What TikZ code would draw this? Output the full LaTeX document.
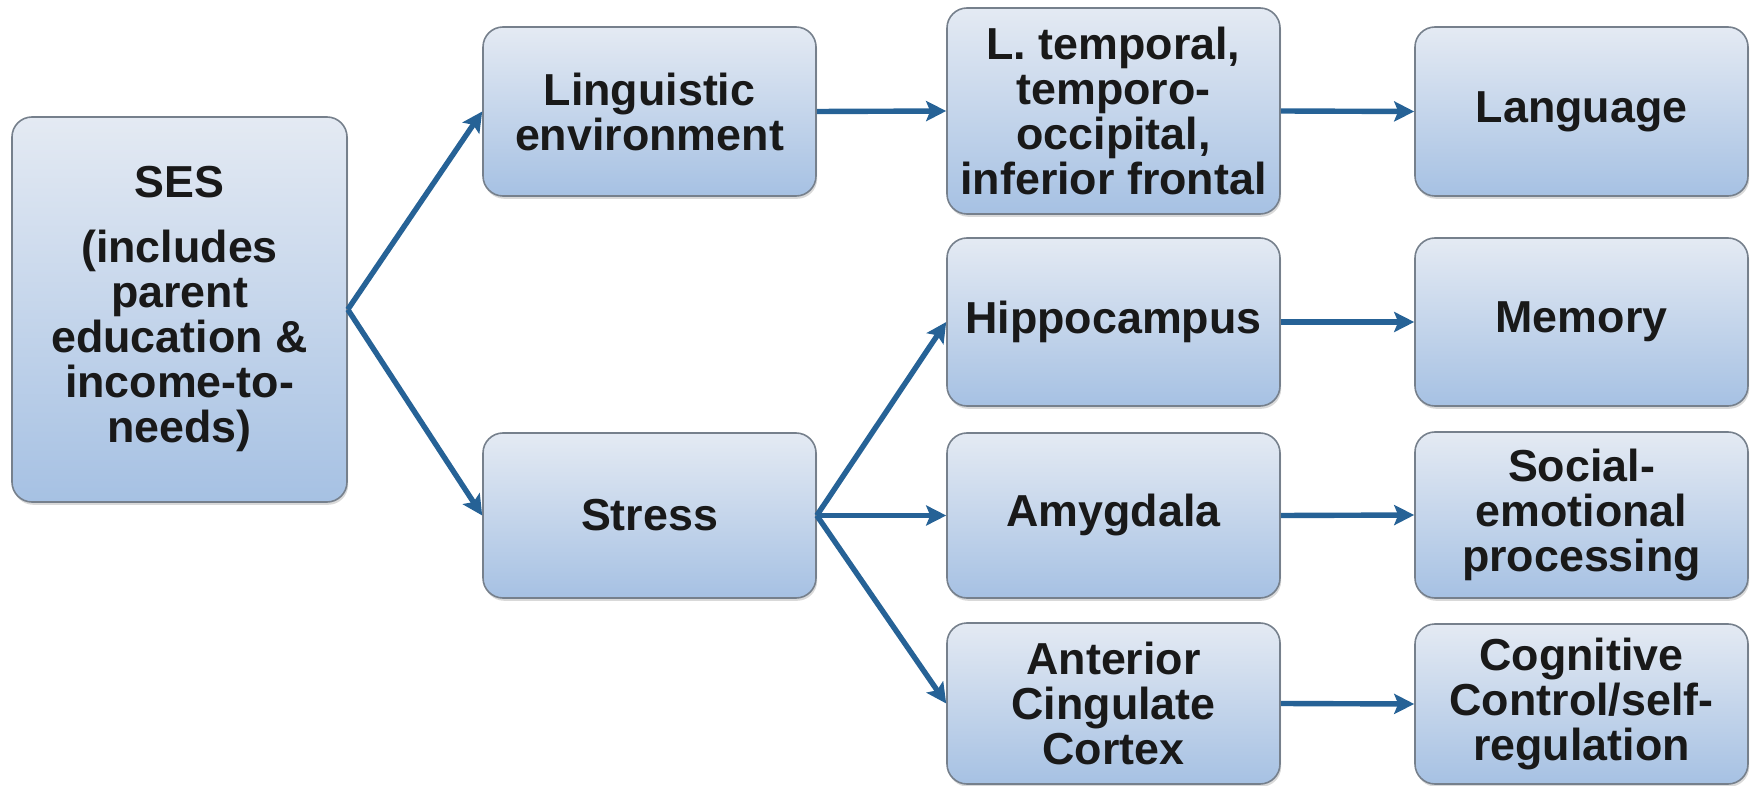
\documentclass[tikz,border=0pt]{standalone}
\usepackage{fontspec}
\setmainfont{Liberation Sans}
\usetikzlibrary{arrows.meta,shadows}
\definecolor{boxtop}{RGB}{228,234,243}
\definecolor{boxbot}{RGB}{166,193,227}
\definecolor{boxline}{RGB}{118,128,140}
\definecolor{arrowblue}{RGB}{38,98,150}
\definecolor{txt}{RGB}{25,25,25}
\begin{document}
\begin{tikzpicture}[x=0.5pt,y=-0.5pt,
  box/.style={rectangle, rounded corners=10pt, draw=boxline, line width=0.8pt,
    top color=boxtop, bottom color=boxbot, align=center,
    font=\fontsize{22.4}{22.5}\selectfont\bfseries, text=txt, inner sep=0pt,
    minimum width=166.5pt,
    drop shadow={opacity=0.3, shadow xshift=0.6pt, shadow yshift=-1.4pt}},
  arr/.style={draw=arrowblue, line width=2.7pt, -{Stealth[length=10pt,width=10pt,inset=2pt]}}]
\useasboundingbox (0,0) rectangle (1752,786);

\node[box, minimum width=167.5pt, minimum height=192.5pt] (ses) at (179.5,309.5)
  {SES\\[10pt](includes\\parent\\education \&\\income-to-\\needs)};

\node[box, minimum height=84.5pt] (ling) at (649.5,111.5) {Linguistic\\environment};
\node[box, minimum height=82.5pt] (stress) at (649.5,515.5) {Stress};

\node[box, minimum height=103pt] (lt) at (1113.5,111) {L. temporal,\\temporo-\\occipital,\\inferior frontal};
\node[box, minimum height=84pt] (hippo) at (1113.5,322) {Hippocampus};
\node[box, minimum height=82.5pt] (amyg) at (1113.5,515.5) {Amygdala};
\node[box, minimum height=80.5pt] (acc) at (1113.5,703.5) {Anterior\\Cingulate\\Cortex};

\node[box, minimum height=84.5pt] (lang) at (1581.5,111.5) {Language};
\node[box, minimum height=84pt] (mem) at (1581.5,322) {Memory};
\node[box, minimum height=83pt] (soc) at (1581.5,515) {Social-\\emotional\\processing};
\node[box, minimum height=80pt] (cog) at (1581.5,704) {Cognitive\\Control/self-\\regulation};

\draw[arr] (ses.east) -- (ling.west);
\draw[arr] (ses.east) -- (stress.west);
\draw[arr] (ling.east) -- (lt.west);
\draw[arr] (stress.east) -- (hippo.west);
\draw[arr] (stress.east) -- (amyg.west);
\draw[arr] (stress.east) -- (acc.west);
\draw[arr] (lt.east) -- (lang.west);
\draw[arr] (hippo.east) -- (mem.west);
\draw[arr] (amyg.east) -- (soc.west);
\draw[arr] (acc.east) -- (cog.west);
\end{tikzpicture}
\end{document}
